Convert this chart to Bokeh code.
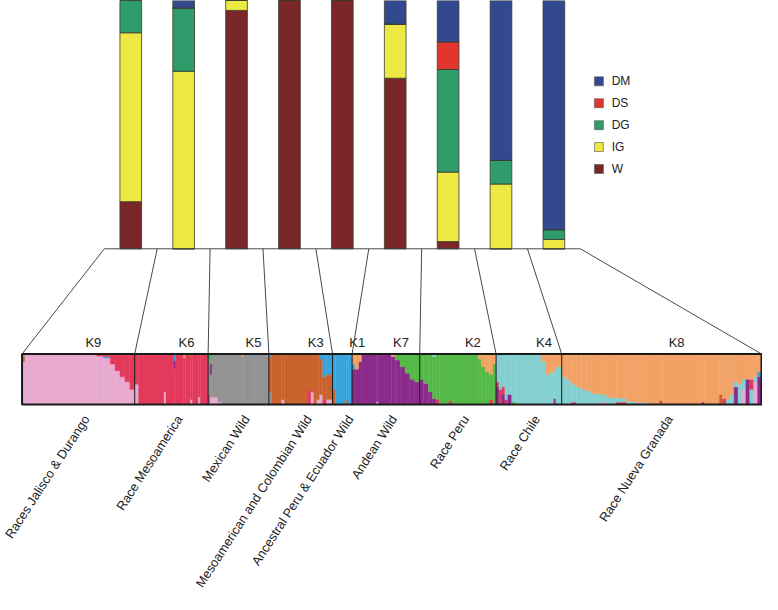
from bokeh.plotting import figure
from bokeh.models import Range1d, ColumnDataSource
from bokeh.core.properties import value
from bokeh.embed import file_html
from bokeh.resources import INLINE

# ---------------- data ----------------
groups = ["Races Jalisco & Durango", "Race Mesoamerica", "Mexican Wild",
          "Mesoamerican and Colombian Wild", "Ancestral Peru & Ecuador Wild",
          "Andean Wild", "Race Peru", "Race Chile", "Race Nueva Granada"]
k_labels = ["K9", "K6", "K5", "K3", "K1", "K7", "K2", "K4", "K8"]

components = ["DM", "DS", "DG", "IG", "W"]
DM = [0.000, 0.030, 0.000, 0.000, 0.000, 0.095, 0.167, 0.644, 0.923]
DS = [0.000, 0.000, 0.000, 0.000, 0.000, 0.000, 0.111, 0.000, 0.000]
DG = [0.130, 0.255, 0.000, 0.000, 0.000, 0.000, 0.413, 0.095, 0.039]
IG = [0.680, 0.715, 0.040, 0.000, 0.000, 0.218, 0.280, 0.261, 0.038]
W  = [0.190, 0.000, 0.960, 1.000, 1.000, 0.687, 0.029, 0.000, 0.000]

comp_colors = {"DM": "#33498f", "DS": "#e1352d", "DG": "#2e9d6b",
               "IG": "#ece844", "W": "#7a2729"}

k_colors = {"K1": "#38a3dc", "K2": "#55b947", "K3": "#c9622c", "K4": "#84d0d0",
            "K5": "#939393", "K6": "#e3395b", "K7": "#8b2b8c", "K8": "#f2a265",
            "K9": "#e8aad0"}

# structure strip: (individuals, [(cluster, fraction) bottom -> top])
strip_K9 = [
    (3, [("K9", 0.85), ("K3", 0.10), ("K5", 0.05)]),
    (73, [("K9", 1.0)]),
    (7, [("K9", 0.96), ("K6", 0.02), ("K3", 0.02)]),
    (7, [("K9", 0.92), ("K1", 0.03), ("K6", 0.05)]),
    (5, [("K9", 0.80), ("K6", 0.20)]),
    (5, [("K9", 0.67), ("K6", 0.33)]),
    (5, [("K9", 0.55), ("K6", 0.45)]),
    (5, [("K9", 0.45), ("K6", 0.55)]),
    (5, [("K9", 0.30), ("K6", 0.70)]),
]
strip_K6 = [
    (4, [("K9", 0.40), ("K6", 0.60)]),
    (26, [("K6", 1.0)]),
    (2, [("K9", 0.25), ("K6", 0.75)]),
    (8, [("K6", 1.0)]),
    (2, [("K6", 0.72), ("K7", 0.15), ("K1", 0.13)]),
    (8, [("K6", 1.0)]),
    (2, [("K6", 0.92), ("K8", 0.08)]),
    (5, [("K6", 1.0)]),
    (2, [("K9", 0.10), ("K6", 0.82), ("K3", 0.08)]),
    (6, [("K6", 1.0)]),
    (2, [("K9", 0.15), ("K6", 0.85)]),
    (8, [("K6", 1.0)]),
]
strip_K5 = [
    (2, [("K6", 0.20), ("K5", 0.60), ("K2", 0.10), ("K1", 0.10)]),
    (2, [("K9", 0.15), ("K5", 0.45), ("K7", 0.20), ("K5", 0.10), ("K2", 0.10)]),
    (6, [("K9", 0.15), ("K5", 0.85)]),
    (4, [("K9", 0.05), ("K5", 0.95)]),
    (20, [("K5", 1.0)]),
    (2, [("K5", 0.95), ("K8", 0.05)]),
    (10, [("K5", 1.0)]),
    (2, [("K5", 0.95), ("K1", 0.05)]),
    (14, [("K5", 1.0)]),
]
strip_K3 = [
    (3, [("K5", 0.25), ("K3", 0.70), ("K1", 0.05)]),
    (10, [("K3", 1.0)]),
    (3, [("K9", 0.10), ("K3", 0.90)]),
    (24, [("K3", 1.0)]),
    (3, [("K6", 0.30), ("K3", 0.70)]),
    (3, [("K9", 0.25), ("K3", 0.75)]),
    (3, [("K3", 1.0)]),
    (3, [("K9", 0.10), ("K3", 0.90)]),
    (3, [("K9", 0.20), ("K3", 0.70), ("K1", 0.10)]),
    (4, [("K6", 0.10), ("K3", 0.45), ("K1", 0.45)]),
    (6, [("K9", 0.10), ("K3", 0.50), ("K1", 0.40)]),
]
strip_K1 = [
    (3, [("K3", 0.30), ("K1", 0.70)]),
    (11, [("K1", 1.0)]),
    (2, [("K3", 0.10), ("K1", 0.90)]),
    (4, [("K1", 1.0)]),
]
strip_K7 = [
    (3, [("K7", 0.70), ("K1", 0.10), ("K8", 0.20)]),
    (4, [("K7", 0.70), ("K8", 0.30)]),
    (3, [("K7", 0.85), ("K8", 0.15)]),
    (15, [("K7", 1.0)]),
    (2, [("K9", 0.06), ("K7", 0.94)]),
    (13, [("K7", 1.0)]),
    (4, [("K7", 0.95), ("K8", 0.05)]),
    (5, [("K7", 0.88), ("K2", 0.12)]),
    (5, [("K7", 0.75), ("K2", 0.25)]),
    (5, [("K7", 0.62), ("K2", 0.38)]),
    (5, [("K7", 0.50), ("K2", 0.50)]),
    (5, [("K7", 0.45), ("K2", 0.55)]),
]
strip_K2 = [
    (4, [("K7", 0.50), ("K2", 0.50)]),
    (5, [("K7", 0.42), ("K2", 0.58)]),
    (4, [("K7", 0.25), ("K2", 0.75)]),
    (4, [("K7", 0.12), ("K2", 0.83), ("K4", 0.05)]),
    (3, [("K6", 0.10), ("K2", 0.90)]),
    (10, [("K2", 1.0)]),
    (3, [("K6", 0.08), ("K2", 0.92)]),
    (27, [("K2", 1.0)]),
    (3, [("K2", 0.90), ("K8", 0.10)]),
    (4, [("K2", 0.75), ("K8", 0.25)]),
    (4, [("K2", 0.65), ("K8", 0.35)]),
    (4, [("K6", 0.10), ("K2", 0.50), ("K8", 0.40)]),
    (3, [("K2", 0.80), ("K8", 0.20)]),
]
strip_K4 = [
    (3, [("K7", 0.35), ("K6", 0.10), ("K4", 0.55)]),
    (3, [("K6", 0.30), ("K4", 0.70)]),
    (3, [("K7", 0.20), ("K6", 0.15), ("K4", 0.65)]),
    (3, [("K6", 0.10), ("K4", 0.90)]),
    (4, [("K7", 0.20), ("K4", 0.80)]),
    (4, [("K2", 0.05), ("K4", 0.95)]),
    (26, [("K4", 1.0)]),
    (5, [("K4", 0.85), ("K8", 0.15)]),
    (5, [("K4", 0.60), ("K8", 0.40)]),
    (3, [("K4", 0.65), ("K8", 0.35)]),
    (2, [("K7", 0.12), ("K4", 0.53), ("K8", 0.35)]),
    (6, [("K4", 0.75), ("K8", 0.25)]),
]
strip_K8 = [
    (5, [("K4", 0.55), ("K8", 0.45)]),
    (5, [("K4", 0.48), ("K8", 0.52)]),
    (5, [("K6", 0.05), ("K4", 0.35), ("K8", 0.60)]),
    (5, [("K4", 0.35), ("K8", 0.65)]),
    (5, [("K4", 0.30), ("K8", 0.70)]),
    (5, [("K4", 0.27), ("K8", 0.73)]),
    (8, [("K4", 0.22), ("K8", 0.78)]),
    (8, [("K9", 0.05), ("K4", 0.15), ("K8", 0.80)]),
    (10, [("K4", 0.14), ("K8", 0.86)]),
    (10, [("K6", 0.05), ("K4", 0.08), ("K8", 0.87)]),
    (10, [("K4", 0.06), ("K8", 0.94)]),
    (12, [("K4", 0.04), ("K8", 0.96)]),
    (12, [("K8", 1.0)]),
    (3, [("K6", 0.08), ("K8", 0.92)]),
    (40, [("K8", 1.0)]),
    (3, [("K7", 0.05), ("K8", 0.95)]),
    (15, [("K8", 1.0)]),
    (3, [("K3", 0.20), ("K8", 0.80)]),
    (4, [("K6", 0.12), ("K8", 0.88)]),
    (4, [("K4", 0.10), ("K8", 0.90)]),
    (4, [("K4", 0.20), ("K8", 0.80)]),
    (4, [("K7", 0.35), ("K4", 0.10), ("K8", 0.55)]),
    (4, [("K4", 0.40), ("K8", 0.60)]),
    (4, [("K9", 0.30), ("K4", 0.20), ("K8", 0.50)]),
    (4, [("K7", 0.50), ("K8", 0.50)]),
    (4, [("K4", 0.30), ("K6", 0.20), ("K8", 0.50)]),
    (4, [("K9", 0.45), ("K4", 0.10), ("K8", 0.45)]),
    (4, [("K7", 0.55), ("K1", 0.10), ("K8", 0.35)]),
]
strips = [strip_K9, strip_K6, strip_K5, strip_K3, strip_K1,
          strip_K7, strip_K2, strip_K4, strip_K8]

# ---------------- layout constants (reference pixel space) ----------------
W_IMG, H_IMG = 778, 610
BAR_X0, BAR_STEP, BAR_W = 133, 54, 0.41
BAR_TOP_Y, BAR_BASE_Y = 0, 255
STRIP_X0, STRIP_TOP, STRIP_BOT = 22, 363, 415
FONT = value("Liberation Sans")
TXT = "#222222"

p = figure(width=762, height=594, output_backend="svg", toolbar_location=None,
           x_range=Range1d(0, W_IMG), y_range=Range1d(H_IMG, 0),
           min_border=0, outline_line_color=None)
p.axis.visible = False
p.grid.visible = False

bar_h = BAR_BASE_Y - BAR_TOP_Y
strip_h = STRIP_BOT - STRIP_TOP
p.extra_x_ranges = {
    "bar": Range1d(-BAR_X0 / BAR_STEP, (W_IMG - BAR_X0) / BAR_STEP),
    "ind": Range1d(-STRIP_X0, W_IMG - STRIP_X0),
}
p.extra_y_ranges = {
    "bar": Range1d(1 - (H_IMG - BAR_TOP_Y) / bar_h, 1 + BAR_TOP_Y / bar_h),
    "q": Range1d(-(H_IMG - STRIP_BOT) / strip_h, STRIP_BOT / strip_h),
}

# ---------------- stacked bars ----------------
src = ColumnDataSource(dict(idx=list(range(len(groups))), DM=DM, DS=DS, DG=DG, IG=IG, W=W))
stack_order = ["W", "IG", "DG", "DS", "DM"]
p.vbar_stack(stack_order, x="idx", width=BAR_W, source=src,
             fill_color=[comp_colors[c] for c in stack_order],
             line_color="#3a3a2c", line_width=0.8,
             x_range_name="bar", y_range_name="bar")

# legend (manual)
LEG_X, LEG_Y0, LEG_DY = 611, 83, 22.5
leg_y = [LEG_Y0 + i * LEG_DY for i in range(len(components))]
p.scatter(x=[LEG_X] * len(components), y=leg_y, marker="square", size=9,
          fill_color=[comp_colors[c] for c in components], line_color="#555555",
          line_width=0.6)
p.text(x=[LEG_X + 13] * len(components), y=leg_y, text=components,
       text_font=FONT, text_font_size="12px", text_color=TXT,
       text_baseline="middle", text_align="left")

# ---------------- structure strip ----------------
L, R, B, T, C = [], [], [], [], []
bounds = [0]
u = 0
for blocks in strips:
    for n, parts in blocks:
        tot = sum(f for _, f in parts)
        b = 0.0
        for k, f in parts:
            L.append(u); R.append(u + n); B.append(b); T.append(b + f / tot)
            C.append(k_colors[k])
            b += f / tot
        u += n
    bounds.append(u)

p.quad(left=L, right=R, bottom=B, top=T, fill_color=C, line_color=C, line_width=0.4,
       x_range_name="ind", y_range_name="q")
inner = bounds[1:-1]
p.segment(x0=inner, y0=[0] * len(inner), x1=inner, y1=[1] * len(inner),
          line_color="#1a1a1a", line_width=1, x_range_name="ind", y_range_name="q")
p.quad(left=[0], right=[bounds[-1]], bottom=[0], top=[1], fill_color=None,
       line_color="#1a1a1a", line_width=2, x_range_name="ind", y_range_name="q")

centers = [(bounds[i] + bounds[i + 1]) / 2 for i in range(len(groups))]
p.text(x=centers, y=[1] * len(centers), text=k_labels, x_offset=15, y_offset=-11,
       text_font=FONT, text_font_size="13px", text_color=TXT,
       text_align="center", text_baseline="middle",
       x_range_name="ind", y_range_name="q")
p.text(x=centers, y=[0] * len(centers), text=groups, x_offset=8, y_offset=12,
       angle=57, angle_units="deg",
       text_font=FONT, text_font_size="12.8px", text_color=TXT,
       text_align="right", text_baseline="middle",
       x_range_name="ind", y_range_name="q")

# ---------------- connectors ----------------
bar_edges = [BAR_X0 + BAR_STEP * (i - 0.5) for i in range(len(groups) + 1)]
strip_edges = [STRIP_X0 + b for b in bounds]
p.segment(x0=bar_edges, y0=[BAR_BASE_Y] * len(bar_edges),
          x1=strip_edges, y1=[STRIP_TOP] * len(strip_edges),
          line_color="#333333", line_width=0.9)
p.segment(x0=[bar_edges[0]], y0=[BAR_BASE_Y], x1=[bar_edges[-1]], y1=[BAR_BASE_Y],
          line_color="#333333", line_width=0.9)

open("out.html", "w").write(file_html(p, INLINE))
